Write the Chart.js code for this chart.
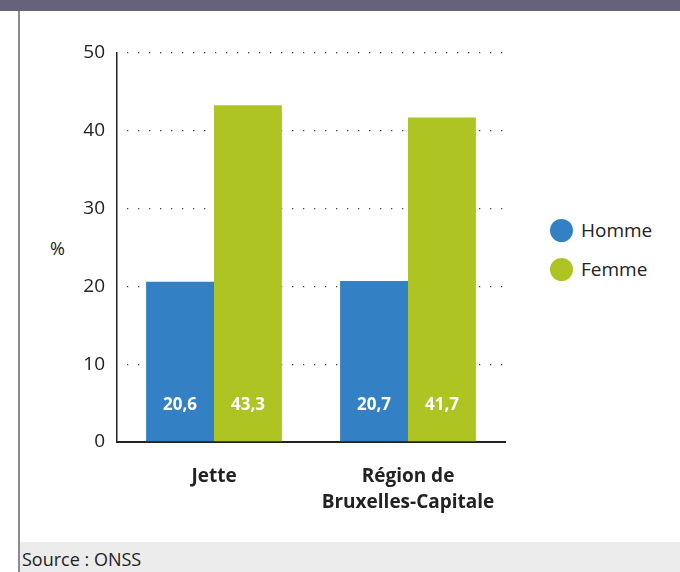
<!DOCTYPE html>
<html>
<head>
<meta charset="utf-8">
<script src="https://cdn.jsdelivr.net/npm/chart.js@4"></script>
<style>
  body { margin: 0; width: 680px; height: 572px; position: relative; overflow: hidden; background: #fff; font-family: 'Open Sans', sans-serif; }
  #topbar { position: absolute; left: 0; top: 0; width: 680px; height: 11px; background: #66627a; }
  #leftline { position: absolute; left: 18px; top: 11px; width: 2px; height: 561px; background: #8c8a98; }
  #footer { position: absolute; left: 20px; top: 542px; width: 660px; height: 30px; background: #ececec; }
  #source { position: absolute; left: 22px; top: 547px; font-size: 18px; color: #222; }
  #unit { position: absolute; left: 50px; top: 236px; font-size: 18px; color: #222; }
  .leg { position: absolute; left: 550px; font-size: 19px; color: #222; display: flex; align-items: center; }
  .leg span.dot { width: 23px; height: 23px; border-radius: 50%; display: inline-block; margin-right: 8px; }
  canvas { position: absolute; left: 0; top: 0; }
</style>
</head>
<body>
<div id="topbar"></div>
<div id="leftline"></div>
<div id="footer"></div>
<div id="source">Source : ONSS</div>
<div id="unit">%</div>
<div class="leg" style="top:217px"><span class="dot" style="background:#3380c4"></span>Homme</div>
<div class="leg" style="top:256px"><span class="dot" style="background:#aec423"></span>Femme</div>
<canvas id="myChart" width="680" height="572"></canvas>
<script>
var categories = ['Jette', ['Région de', 'Bruxelles-Capitale']];
var homme = [20.6, 20.7];
var femme = [43.3, 41.7];
var yTicks = [0, 10, 20, 30, 40, 50];

var barLabels = {
	id: 'barLabels',
	afterDatasetsDraw: function (chart) {
		var ctx = chart.ctx;
		ctx.save();
		ctx.fillStyle = '#fff';
		ctx.font = 'bold 17px "Open Sans"';
		ctx.textAlign = 'center';
		ctx.textBaseline = 'middle';
		chart.data.datasets.forEach(function (ds, i) {
			chart.getDatasetMeta(i).data.forEach(function (bar, j) {
				ctx.fillText(String(ds.data[j]).replace('.', ','), bar.x, bar.base - 36);
			});
		});
		ctx.restore();
	},
};

new Chart('myChart', {
	type: 'bar',
	data: {
		labels: categories,
		datasets: [
			{ label: 'Homme', data: homme, backgroundColor: '#3380c4' },
			{ label: 'Femme', data: femme, backgroundColor: '#aec423' },
		],
	},
	options: {
		responsive: false,
		animation: false,
		layout: { padding: { top: 53, right: 175, left: 0, bottom: 0 } },
		plugins: {
			legend: { display: false },
			tooltip: { enabled: false },
		},
		datasets: { bar: { categoryPercentage: 0.7, barPercentage: 1 } },
		scales: {
			x: {
				grid: { display: false },
				border: { color: '#222', width: 2 },
				ticks: { color: '#222', padding: 14, font: { family: 'Open Sans', size: 19, weight: 'bold', lineHeight: 1.37 } },
				afterFit: function (s) { s.height = 130; },
			},
			y: {
				min: 0,
				max: 50,
				afterBuildTicks: function (s) { s.ticks = yTicks.map(function (v) { return { value: v }; }); },
				grid: {
					color: function (c) { return c.tick && c.tick.value === 0 ? 'rgba(0,0,0,0)' : '#444'; },
					lineWidth: 1.3,
					drawTicks: false,
				},
				border: { color: '#222', width: 1.5, dash: [1.3, 9.7], dashOffset: 1.5 },
				ticks: { color: '#222', padding: 12, font: { family: 'Open Sans', size: 19 } },
				afterFit: function (s) { s.width = 117; },
			},
		},
	},
	plugins: [barLabels],
});
</script>
</body>
</html>
